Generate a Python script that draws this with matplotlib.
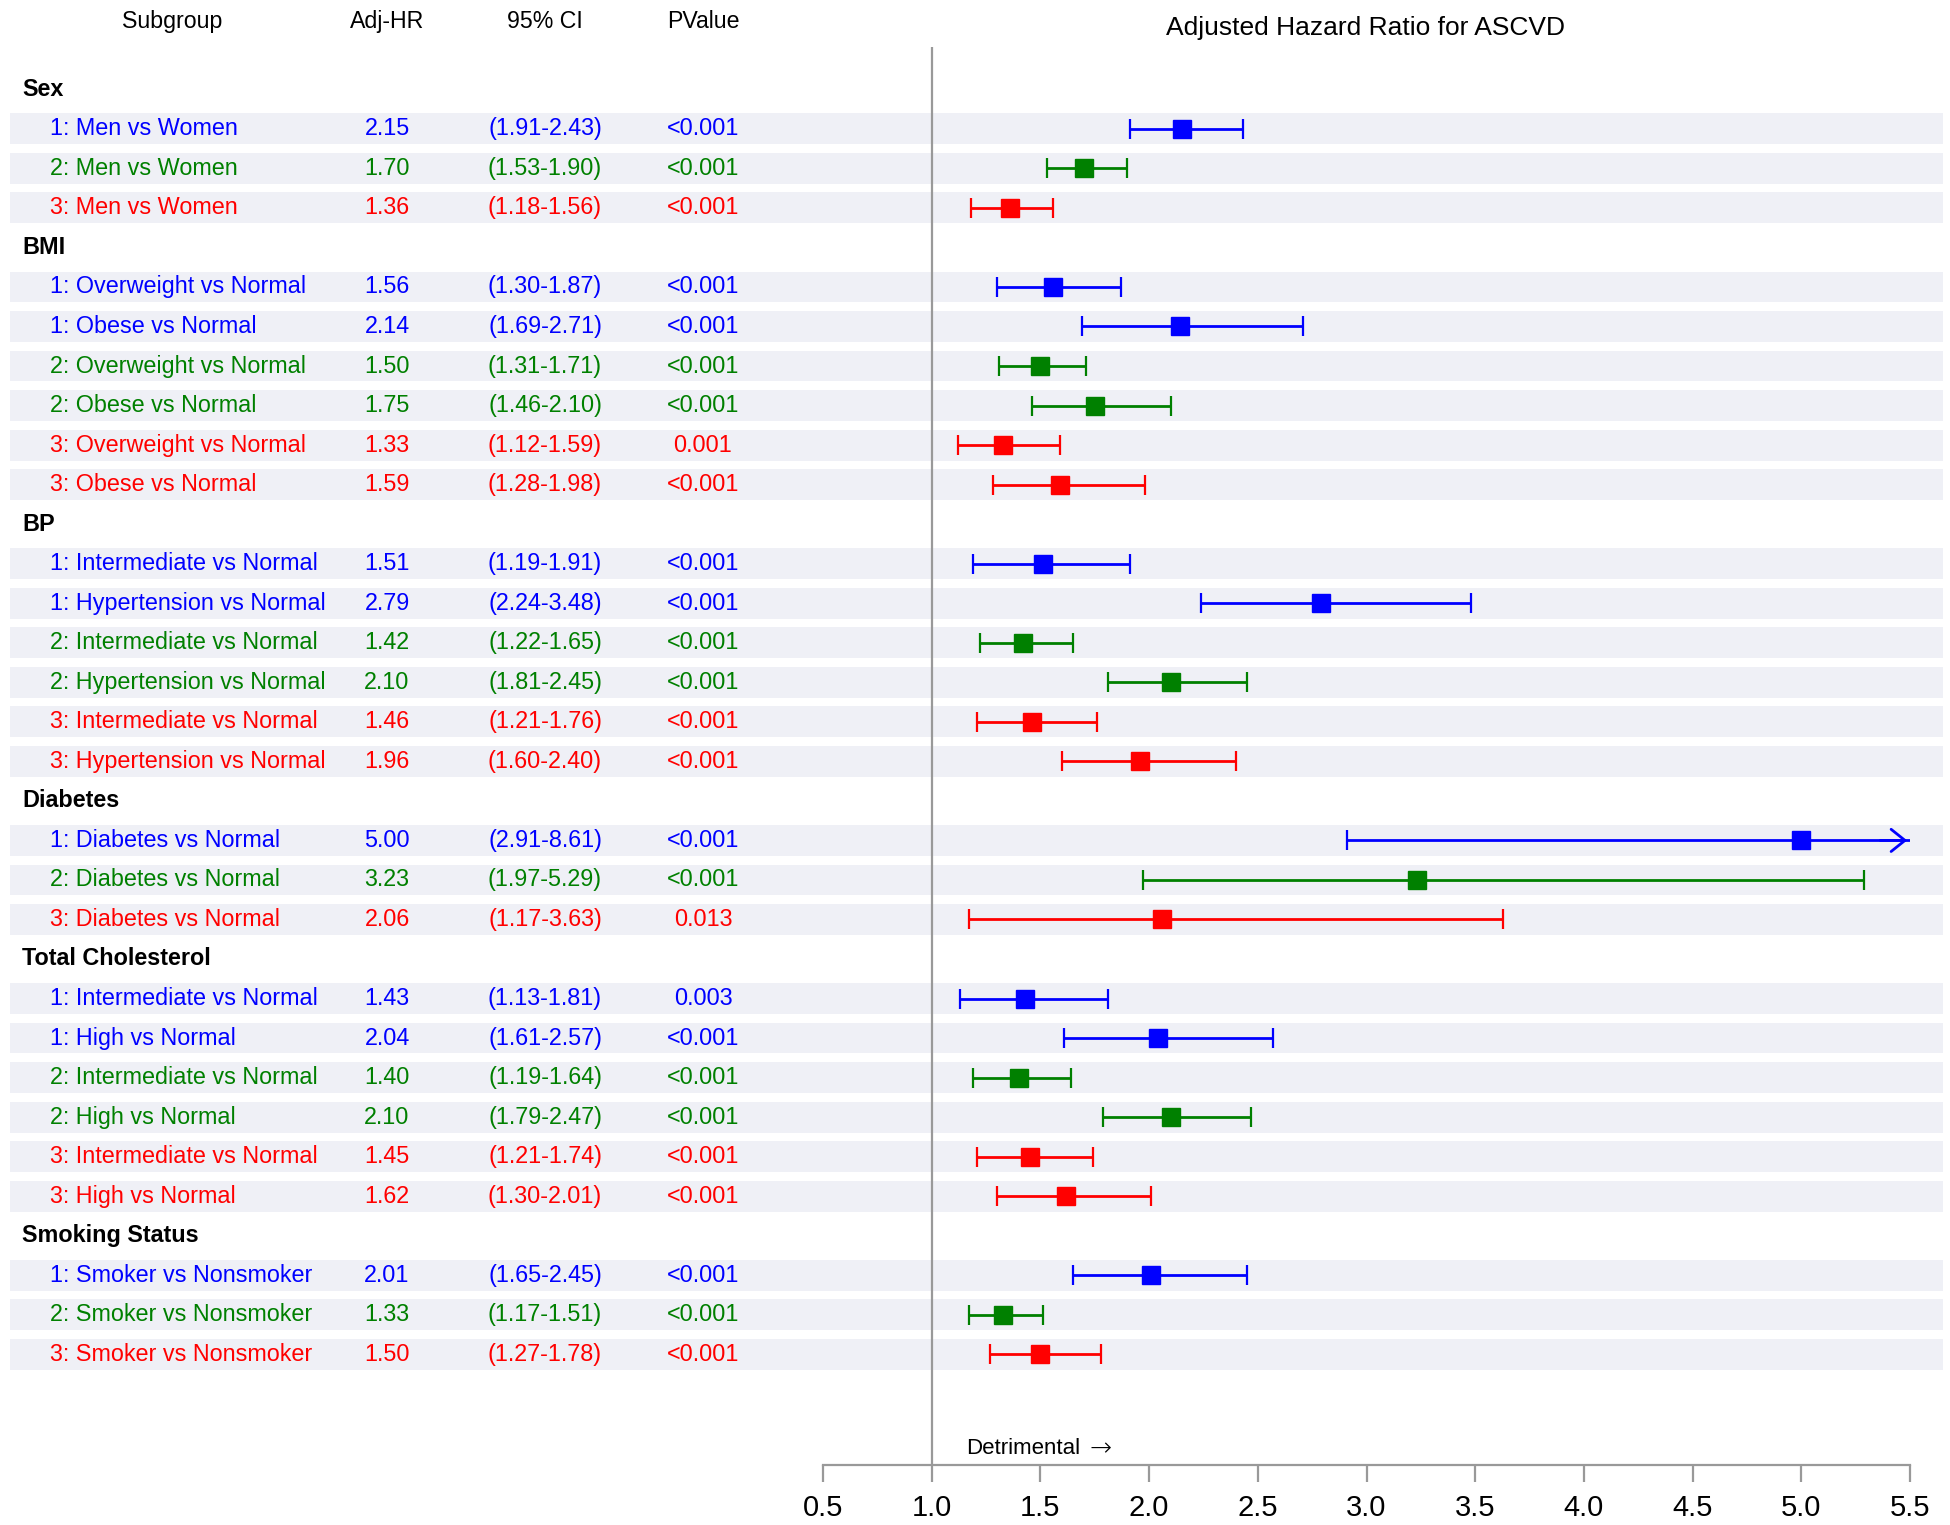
import matplotlib.pyplot as plt
from matplotlib.patches import Rectangle
from matplotlib import transforms
import numpy as np

plt.rcParams['font.family'] = ['Liberation Sans', 'DejaVu Sans']

groups = ["Sex", "BMI", "BP", "Diabetes", "Total Cholesterol", "Smoking Status"]
group_sizes = [3, 6, 6, 3, 6, 3]

labels = [
    "1: Men vs Women", "2: Men vs Women", "3: Men vs Women",
    "1: Overweight vs Normal", "1: Obese vs Normal", "2: Overweight vs Normal",
    "2: Obese vs Normal", "3: Overweight vs Normal", "3: Obese vs Normal",
    "1: Intermediate vs Normal", "1: Hypertension vs Normal", "2: Intermediate vs Normal",
    "2: Hypertension vs Normal", "3: Intermediate vs Normal", "3: Hypertension vs Normal",
    "1: Diabetes vs Normal", "2: Diabetes vs Normal", "3: Diabetes vs Normal",
    "1: Intermediate vs Normal", "1: High vs Normal", "2: Intermediate vs Normal",
    "2: High vs Normal", "3: Intermediate vs Normal", "3: High vs Normal",
    "1: Smoker vs Nonsmoker", "2: Smoker vs Nonsmoker", "3: Smoker vs Nonsmoker",
]
hr = [2.15, 1.70, 1.36,
      1.56, 2.14, 1.50, 1.75, 1.33, 1.59,
      1.51, 2.79, 1.42, 2.10, 1.46, 1.96,
      5.00, 3.23, 2.06,
      1.43, 2.04, 1.40, 2.10, 1.45, 1.62,
      2.01, 1.33, 1.50]
ci_lo = [1.91, 1.53, 1.18,
         1.30, 1.69, 1.31, 1.46, 1.12, 1.28,
         1.19, 2.24, 1.22, 1.81, 1.21, 1.60,
         2.91, 1.97, 1.17,
         1.13, 1.61, 1.19, 1.79, 1.21, 1.30,
         1.65, 1.17, 1.27]
ci_hi = [2.43, 1.90, 1.56,
         1.87, 2.71, 1.71, 2.10, 1.59, 1.98,
         1.91, 3.48, 1.65, 2.45, 1.76, 2.40,
         8.61, 5.29, 3.63,
         1.81, 2.57, 1.64, 2.47, 1.74, 2.01,
         2.45, 1.51, 1.78]
pvals = ["<0.001", "<0.001", "<0.001",
         "<0.001", "<0.001", "<0.001", "<0.001", "0.001", "<0.001",
         "<0.001", "<0.001", "<0.001", "<0.001", "<0.001", "<0.001",
         "<0.001", "<0.001", "0.013",
         "0.003", "<0.001", "<0.001", "<0.001", "<0.001", "<0.001",
         "<0.001", "<0.001", "<0.001"]

cohort_colors = {"1": "#0000ff", "2": "#008000", "3": "#ff0000"}
xticks = [0.5, 1.0, 1.5, 2.0, 2.5, 3.0, 3.5, 4.0, 4.5, 5.0, 5.5]

W, H = 1950, 1525
fig = plt.figure(figsize=(W / 100, H / 100), dpi=100)

# axes in pixel terms
ax_left, ax_right = 823, 1910
ax_top, ax_bot = 47, 1465
ax = fig.add_axes([ax_left / W, 1 - ax_bot / H, (ax_right - ax_left) / W, (ax_bot - ax_top) / H])
xmin, xmax = 0.5, 5.5
ax.set_xlim(xmin, xmax)
ax.set_ylim(34.80, -1.07)

for sp in ["top", "right", "left"]:
    ax.spines[sp].set_visible(False)
ax.spines["bottom"].set_color("#999999")
ax.spines["bottom"].set_linewidth(1.6)
ax.set_yticks([])
ax.set_xticks(xticks)
ax.set_xticklabels([f"{t:.1f}" for t in xticks], fontsize=21)
ax.tick_params(axis="x", direction="out", length=12, width=1.6, color="#999999", pad=9)

ax.axvline(1.0, color="#999999", lw=1.6, zorder=1)

tr = transforms.blended_transform_factory(fig.transFigure, ax.transData)

# build row positions
row = 0
row_y = []
group_y = []
for g, n in zip(groups, group_sizes):
    group_y.append(row)
    row += 1
    for k in range(n):
        row_y.append(row)
        row += 1

fs = 16.8
for g, y in zip(groups, group_y):
    ax.text(22 / W, y, g, transform=tr, fontsize=fs, fontweight="bold", va="center", ha="left", clip_on=False)

band_h = 0.78
for i, y in enumerate(row_y):
    ax.add_patch(Rectangle((10 / W, y - band_h / 2), (1943 - 10) / W, band_h, transform=tr,
                           facecolor="#eff0f6", edgecolor="none", zorder=0, clip_on=False))
    c = cohort_colors[labels[i][0]]
    ax.text(50 / W, y, labels[i], transform=tr, fontsize=fs, color=c, va="center", ha="left")
    ax.text(387 / W, y, f"{hr[i]:.2f}", transform=tr, fontsize=fs, color=c, va="center", ha="center")
    ax.text(545 / W, y, f"({ci_lo[i]:.2f}-{ci_hi[i]:.2f})", transform=tr, fontsize=fs, color=c,
            va="center", ha="center")
    ax.text(703 / W, y, pvals[i], transform=tr, fontsize=fs, color=c, va="center", ha="center")

    lo = max(ci_lo[i], xmin)
    hi = min(ci_hi[i], xmax)
    ax.hlines(y, lo, hi, color=c, lw=2.0, zorder=3)
    ax.plot([lo], [y], marker="|", ms=15, mew=1.6, color=c, zorder=3)
    if ci_hi[i] > xmax:
        ax.annotate("", xy=(xmax, y), xytext=(xmax - 0.15, y),
                    arrowprops=dict(arrowstyle="->,head_length=0.5,head_width=0.4",
                                    color=c, lw=2.0, mutation_scale=20), zorder=3)
    else:
        ax.plot([hi], [y], marker="|", ms=15, mew=1.6, color=c, zorder=3)
    ax.plot([hr[i]], [y], marker="s", ms=12.5, color=c, zorder=4, lw=0)

# headers
hy = 1 - 21.5 / H
fig.text(172 / W, hy, "Subgroup", fontsize=16.7, ha="center", va="center")
fig.text(387 / W, hy, "Adj-HR", fontsize=16.7, ha="center", va="center")
fig.text(545 / W, hy, "95% CI", fontsize=16.7, ha="center", va="center")
fig.text(703 / W, hy, "PValue", fontsize=16.7, ha="center", va="center")
fig.text(1365 / W, 1 - 28 / H, "Adjusted Hazard Ratio for ASCVD", fontsize=19, ha="center", va="center")

ax.text(1.158, 34.38, "Detrimental", fontsize=16, ha="left", va="center")
ax.text(1.725, 34.38, "\u2192", fontsize=19, fontweight="light", ha="left", va="center",
        family="DejaVu Sans")

fig.savefig("out.png", dpi=100)
